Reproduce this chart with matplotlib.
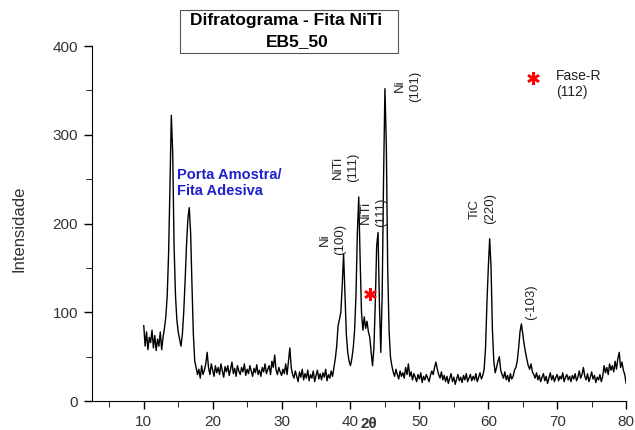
import numpy as np
import matplotlib
matplotlib.use('Agg')
import matplotlib.pyplot as plt
from matplotlib.patches import Rectangle

plt.rcParams['font.family'] = ['Liberation Sans', 'DejaVu Sans']

# 2-theta grid, 0.2 deg steps from 10 to 80
two_theta = np.arange(10.0, 80.0001, 0.2)

# intensity, one row per 2 degrees
intensity = [
    85, 62, 78, 58, 72, 66, 80, 60, 74, 57,        # 10
    70, 62, 78, 58, 72, 82, 95, 118, 165, 240,     # 12
    322, 280, 175, 120, 92, 78, 70, 62, 75, 100,   # 14
    135, 175, 205, 218, 190, 130, 75, 45, 38, 30,  # 16
    36, 26, 40, 30, 35, 42, 55, 38, 30, 42,        # 18
    35, 28, 40, 32, 38, 30, 42, 34, 27, 39,        # 20
    33, 40, 29, 36, 44, 31, 37, 28, 40, 34,        # 22
    30, 38, 33, 42, 29, 36, 31, 40, 34, 28,        # 24
    37, 32, 41, 30, 35, 28, 38, 33, 42, 31,        # 26
    36, 40, 30, 45, 38, 52, 35, 30, 38, 33,        # 28
    29, 36, 31, 42, 30, 45, 60, 38, 30, 26,        # 30
    34, 28, 22, 33, 27, 36, 24, 31, 26, 35,        # 32
    23, 30, 26, 34, 22, 29, 35, 25, 31, 24,        # 34
    32, 27, 36, 23, 30, 26, 34, 28, 38, 48,        # 36
    62, 85, 92, 100, 130, 166, 120, 75, 55, 45,    # 38
    40, 48, 60, 80, 120, 190, 230, 160, 100, 80,   # 40
    95, 82, 90, 78, 72, 55, 40, 60, 110, 175,      # 42
    190, 110, 55, 120, 250, 352, 290, 150, 80, 50, # 44
    40, 33, 28, 36, 30, 25, 34, 28, 32, 26,        # 46
    38, 30, 42, 28, 33, 24, 31, 27, 22, 30,        # 48
    25, 32, 21, 28, 24, 30, 26, 22, 29, 34,        # 50
    30, 38, 44, 36, 30, 26, 33, 24, 29, 22,        # 52
    28, 20, 26, 31, 22, 27, 19, 25, 30, 23,        # 54
    27, 21, 29, 24, 31, 22, 26, 30, 23, 28,        # 56
    24, 31, 22, 27, 32, 25, 29, 36, 60, 110,       # 58
    150, 183, 150, 80, 45, 32, 38, 45, 50, 35,     # 60
    30, 26, 33, 24, 29, 22, 31, 25, 28, 35,        # 62
    38, 45, 60, 78, 87, 76, 64, 55, 47, 40,        # 64
    36, 42, 33, 30, 26, 32, 24, 29, 22, 27,        # 66
    31, 23, 28, 20, 26, 32, 24, 29, 22, 27,        # 68
    30, 23, 28, 25, 32, 22, 27, 30, 24, 28,        # 70
    22, 29, 25, 31, 23, 27, 34, 26, 30, 38,        # 72
    28, 24, 31, 22, 27, 33, 25, 29, 21, 27,        # 74
    24, 30, 22, 28, 40, 32, 38, 30, 42, 35,        # 76
    40, 33, 45, 36, 48, 55, 38, 44, 35, 30,        # 78
    20,
]

# peak labels: (x, y, text)
peak_labels = [
    (37.4, 182, 'Ni\n(100)'),
    (39.3, 263, 'NiTi\n(111)'),
    (43.4, 213, 'NiTi\n(111)'),
    (48.3, 355, 'Ni\n(101)'),
    (59.2, 217, 'TiC\n(220)'),
    (66.2, 112, '(-103)'),
]

fase_r_pos = (42.9, 121)

fig = plt.figure(figsize=(6.35, 4.30), dpi=100)
ax = fig.add_axes([0.145, 0.067, 0.841, 0.826])

ax.plot(two_theta, intensity, color='black', linewidth=1.0)

ax.set_xlim(2.5, 80)
ax.set_ylim(0, 400)
ax.set_xticks(np.arange(10, 81, 10))
ax.set_xticks(np.arange(5, 81, 10), minor=True)
ax.set_yticks(np.arange(0, 401, 100))
ax.set_yticks(np.arange(50, 400, 100), minor=True)
ax.spines['top'].set_visible(False)
ax.spines['right'].set_visible(False)
ax.tick_params(direction='out', labelsize=11, labelcolor='#333333',
               length=6, width=1, pad=4)
ax.tick_params(which='minor', direction='out', length=4)

for x, y, txt in peak_labels:
    ax.text(x, y, txt, rotation=90, ha='center', va='center',
            multialignment='center', fontsize=9.5, color='#222222',
            linespacing=1.35)

ax.text(14.8, 246, 'Porta Amostra/\nFita Adesiva', color='#2020cc',
        fontsize=10.5, fontweight='bold', ha='left', va='center')

# Fase-R markers (asterisks)
ax.plot(*fase_r_pos, marker=(6, 2, 0), color='red', markersize=9,
        markeredgewidth=1.8, linestyle='none')
ax.plot(66.5, 364, marker=(6, 2, 0), color='red', markersize=9,
        markeredgewidth=1.8, linestyle='none', clip_on=False)
ax.text(69.8, 357, 'Fase-R\n(112)', fontsize=10, color='#222222',
        ha='left', va='center')

# title box
fig.patches.append(Rectangle((180 / 635, 1 - 53 / 430), 218 / 635, 43 / 430,
                             transform=fig.transFigure, facecolor='white',
                             edgecolor='#555555', linewidth=0.8))
fig.text(286 / 635, 1 - 21 / 430, 'Difratograma - Fita NiTi', ha='center',
         va='center', fontsize=12.5, fontweight='bold')
fig.text(297 / 635, 1 - 42 / 430, 'EB5_50', ha='center', va='center',
         fontsize=12.5, fontweight='bold')

fig.text(19 / 635, 1 - 229 / 430, 'Intensidade', rotation=90, ha='center',
         va='center', fontsize=12, color='#333333')
fig.text(369 / 635, 1 - 417 / 430, '2θ', ha='center', va='top',
         fontsize=11, fontweight='bold', color='#333333')

fig.savefig('out.png', dpi=100)
